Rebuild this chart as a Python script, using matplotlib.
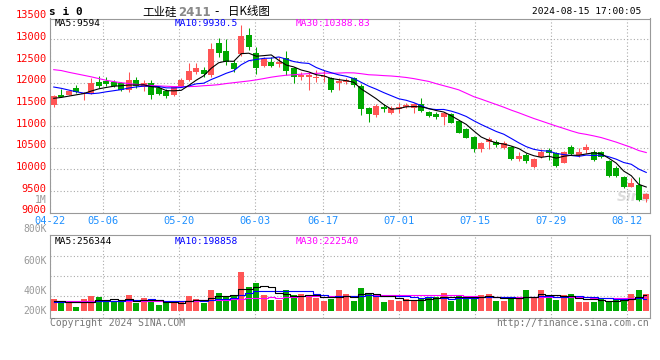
import matplotlib
matplotlib.use('Agg')
import matplotlib.pyplot as plt
import matplotlib.transforms as mtransforms
import numpy as np

plt.rcParams['font.family'] = ['DejaVu Sans Mono', 'Noto Sans CJK SC']

# tick dates and their trading-day index
dates = ['04-22', '05-06', '05-20', '06-03', '06-17', '07-01', '07-15', '07-29', '08-12']
date_idx = [0, 7, 17, 27, 36, 46, 56, 66, 76]

opens = [11486, 11724, 11724, 11886, 11739, 11770, 12024, 12039, 12009, 11986,
         11832, 12063, 11909, 11986, 11870, 11817, 11717, 11932, 12063, 12255,
         12293, 12178, 12909, 12732, 12463, 12663, 13101, 12678, 12393, 12486,
         12424, 12563, 12332, 12124, 12124, 12101, 12124, 12101, 12001, 12024,
         12101, 11932, 11409, 11255, 11447, 11309, 11393, 11447, 11409, 11509,
         11332, 11278, 11217, 11270, 11117, 10930, 10755, 10470, 10630, 10640,
         10486, 10524, 10240, 10332, 10063, 10293, 10447, 10386, 10155, 10509,
         10332, 10447, 10409, 10409, 10193, 10024, 9816, 9601, 9640, 9309]
highs = [11717, 11848, 11832, 11948, 11793, 12101, 12155, 12124, 12063, 12024,
         12255, 12140, 12063, 12063, 11909, 11848, 11924, 12101, 12463, 12463,
         12370, 12909, 13024, 13001, 12524, 13332, 13255, 12832, 12601, 12601,
         12601, 12732, 12370, 12255, 12255, 12293, 12293, 12140, 12101, 12117,
         12140, 11970, 11447, 11501, 11501, 11463, 11540, 11524, 11524, 11655,
         11355, 11332, 11332, 11293, 11140, 10947, 10770, 10640, 10755, 10678,
         10660, 10540, 10409, 10370, 10255, 10463, 10486, 10409, 10424, 10563,
         10486, 10586, 10447, 10424, 10216, 10078, 9847, 9793, 9816, 9447]
lows = [11432, 11663, 11709, 11755, 11601, 11740, 11871, 11924, 11909, 11809,
        11793, 11870, 11809, 11624, 11717, 11640, 11693, 11909, 12048, 12201,
        12140, 12140, 12601, 12409, 12255, 12624, 12755, 12201, 12370, 12370,
        12370, 12178, 11986, 12063, 11832, 12024, 12024, 11793, 11832, 11970,
        11909, 11255, 11101, 11217, 11332, 11278, 11309, 11409, 11309, 11317,
        11201, 11155, 11030, 11063, 10830, 10717, 10409, 10409, 10463, 10524,
        10465, 10217, 10193, 10155, 10024, 10255, 10216, 10063, 10140, 10332,
        10293, 10370, 10201, 10270, 9816, 9816, 9578, 9586, 9278, 9255]
closes = [11693, 11678, 11809, 11793, 11770, 11986, 11932, 11970, 11932, 11832,
          12063, 11932, 12001, 11717, 11740, 11693, 11909, 12063, 12278, 12347,
          12201, 12778, 12694, 12470, 12317, 13086, 12832, 12347, 12540, 12393,
          12470, 12278, 12140, 12178, 12178, 12140, 12155, 11832, 12047, 12063,
          11947, 11386, 11278, 11470, 11393, 11424, 11447, 11486, 11501, 11355,
          11232, 11217, 11309, 11078, 10850, 10735, 10470, 10600, 10701, 10555,
          10600, 10240, 10309, 10193, 10240, 10409, 10370, 10086, 10409, 10355,
          10409, 10524, 10216, 10293, 9847, 9847, 9601, 9693, 9293, 9432]

ma5 = [11640, 11660, 11690, 11720, 11749, 11807, 11858, 11890, 11918, 11930,
       11946, 11946, 11952, 11909, 11891, 11817, 11812, 11824, 11937, 12058,
       12160, 12333, 12460, 12498, 12492, 12669, 12680, 12610, 12624, 12640,
       12516, 12406, 12364, 12292, 12249, 12183, 12158, 12097, 12070, 12047,
       12009, 11855, 11744, 11629, 11495, 11390, 11402, 11444, 11450, 11443,
       11404, 11358, 11323, 11238, 11137, 11038, 10888, 10747, 10671, 10612,
       10585, 10539, 10481, 10379, 10316, 10278, 10304, 10260, 10303, 10326,
       10326, 10357, 10383, 10359, 10258, 10145, 9961, 9856, 9656, 9594]
ma10 = [11900, 11870, 11830, 11790, 11760, 11745, 11760, 11790, 11815, 11840,
        11877, 11902, 11921, 11914, 11911, 11881, 11879, 11888, 11923, 11974,
        11988, 12073, 12142, 12217, 12275, 12414, 12507, 12535, 12561, 12566,
        12593, 12543, 12487, 12458, 12444, 12350, 12282, 12230, 12181, 12148,
        12096, 12007, 11920, 11850, 11771, 11700, 11629, 11594, 11540, 11469,
        11397, 11380, 11383, 11344, 11290, 11221, 11123, 11035, 10955, 10875,
        10812, 10714, 10614, 10525, 10464, 10432, 10422, 10370, 10341, 10321,
        10302, 10330, 10321, 10331, 10292, 10236, 10159, 10119, 10008, 9930.5]
ma30 = [12300, 12280, 12240, 12205, 12170, 12135, 12095, 12055, 12025, 12000,
        11980, 11960, 11947, 11935, 11925, 11918, 11910, 11908, 11909, 11915,
        11930, 11940, 11955, 11980, 12000, 12020, 12040, 12065, 12095, 12127,
        12152, 12172, 12183, 12196, 12210, 12215, 12222, 12218, 12222, 12229,
        12226, 12207, 12183, 12175, 12163, 12154, 12139, 12120, 12094, 12061,
        12029, 11977, 11930, 11884, 11835, 11757, 11678, 11620, 11558, 11497,
        11435, 11367, 11306, 11240, 11175, 11117, 11058, 11000, 10945, 10888,
        10837, 10808, 10773, 10734, 10682, 10629, 10568, 10508, 10435, 10388.83]

# volume in thousands
vol = [194, 124, 135, 70, 194, 248, 227, 151, 151, 151,
       259, 135, 211, 151, 97, 135, 151, 151, 248, 194,
       135, 340, 292, 248, 243, 637, 394, 459, 259, 178,
       178, 340, 259, 281, 243, 205, 167, 200, 340, 275,
       162, 373, 292, 248, 146, 178, 167, 189, 178, 216,
       205, 227, 292, 162, 259, 232, 205, 259, 275, 162,
       162, 221, 232, 340, 216, 340, 205, 178, 259, 275,
       146, 146, 146, 189, 146, 178, 205, 275, 340, 275]
vma5 = [165, 160, 150, 145, 143, 154, 175, 178, 194, 186,
        188, 169, 181, 181, 171, 146, 149, 137, 156, 176,
        176, 214, 242, 242, 252, 352, 363, 396, 398, 385,
        294, 283, 243, 247, 260, 266, 231, 219, 231, 237,
        229, 270, 288, 270, 244, 247, 206, 186, 172, 186,
        191, 203, 224, 220, 229, 234, 230, 223, 246, 227,
        213, 216, 210, 223, 234, 270, 267, 256, 240, 251,
        213, 201, 194, 180, 155, 161, 173, 199, 229, 256]
vma10 = [150, 148, 145, 143, 145, 150, 155, 158, 160, 164,
         171, 172, 180, 188, 178, 167, 159, 159, 169, 173,
         161, 181, 189, 199, 214, 264, 288, 319, 320, 318,
         323, 323, 320, 323, 323, 280, 257, 231, 239, 249,
         247, 250, 254, 250, 241, 238, 238, 237, 221, 215,
         219, 205, 205, 196, 207, 213, 216, 223, 233, 228,
         223, 223, 217, 235, 230, 241, 241, 233, 231, 243,
         241, 234, 225, 210, 203, 187, 187, 196, 205, 199]
vma30 = [160, 160, 158, 157, 157, 158, 160, 160, 160, 160,
         162, 162, 163, 163, 162, 162, 163, 165, 168, 170,
         172, 178, 182, 186, 190, 200, 206, 212, 216, 219,
         218, 225, 229, 237, 238, 237, 235, 236, 243, 247,
         244, 251, 254, 257, 259, 260, 261, 262, 260, 261,
         263, 259, 259, 256, 257, 243, 237, 230, 231, 230,
         230, 226, 225, 227, 226, 231, 232, 231, 228, 228,
         228, 220, 215, 214, 214, 214, 215, 218, 223, 223]

UP = '#ff5555'
DOWN = '#00a800'
GRID = '#aaaaaa'
FRAME = '#999999'
W, H = 660.0, 360.0


def box(x0, y0, x1, y1):
    # pixel box (top-left origin) -> figure rect
    return [x0 / W, 1 - y1 / H, (x1 - x0) / W, (y1 - y0) / H]


fig = plt.figure(figsize=(6.6, 3.6), dpi=100)
ax = fig.add_axes(box(50, 18.5, 650, 213))
vax = fig.add_axes(box(50, 235, 650, 318))

x = np.arange(len(closes))
o = np.array(opens)
c = np.array(closes)
colors = np.where(c >= o, UP, DOWN)

# grid positions drift a little against the candles on sina's chart
grid_pos = np.array(date_idx) * 1.0113 - 0.47

# price panel
ax.vlines(x, lows, highs, colors=colors, lw=0.75, zorder=3)
ax.bar(x, np.maximum(np.abs(c - o), 20), bottom=np.minimum(o, c), width=0.76,
       color=colors, lw=0, zorder=3)
ax.plot(x, ma30, color='#ff00ff', lw=0.8, zorder=4)
ax.plot(x, ma10, color='#0000ff', lw=0.8, zorder=4)
ax.plot(x, ma5, color='black', lw=0.8, zorder=4)
ax.set_xlim(-0.5, 79.5)
ax.set_ylim(8995, 13480)
ax.set_yticks(range(9500, 13001, 500))
ax.set_xticks(grid_pos)
ax.set_xticklabels(dates, color='#1e90ff', fontsize=7.5)
ax.tick_params(axis='x', length=0, pad=2)
ax.tick_params(axis='y', length=0, labelleft=False)
ax.grid(True, ls=(0, (1, 2)), color=GRID, lw=0.8)
for s in ax.spines.values():
    s.set_color(FRAME)

lab_tr = mtransforms.offset_copy(
    mtransforms.blended_transform_factory(ax.transAxes, ax.transData),
    fig=fig, x=-3.5, y=2.3, units='dots')
for v in range(9000, 13501, 500):
    ax.text(0, v, str(v), transform=lab_tr, ha='right', va='center',
            color='red', fontsize=7.5, clip_on=False)

ax.text(0.973, 0.08, 'Sina', transform=ax.transAxes, ha='center', va='center',
        fontsize=10, style='italic', weight='bold', color='#dddddd',
        family='DejaVu Sans', zorder=1)

# volume panel
vax.bar(x, vol, width=0.76, color=colors, lw=0, zorder=3)
vax.plot(x, vma30, color='#ff00ff', lw=0.8, drawstyle='steps-mid', zorder=4)
vax.plot(x, vma10, color='#0000ff', lw=0.8, drawstyle='steps-mid', zorder=4)
vax.plot(x, vma5, color='black', lw=0.8, drawstyle='steps-mid', zorder=4)
vax.set_xlim(-0.5, 79.5)
vax.set_ylim(-113, 1231)
vax.set_xticks(grid_pos)
vax.set_yticks([])
vax.tick_params(axis='x', length=0, labelbottom=False)
vax.grid(True, axis='x', ls=(0, (1, 2)), color=GRID, lw=0.8)
for f in (0.265, 0.506, 0.747):
    vax.plot([0, 1], [f, f], transform=vax.transAxes, ls=(0, (1, 2)),
             color=GRID, lw=0.8, zorder=1)
for s in vax.spines.values():
    s.set_color(FRAME)

for txt, yp in [('1M', 200), ('800K', 229), ('600K', 261), ('400K', 291), ('200K', 311)]:
    fig.text(46.5 / W, 1 - yp / H, txt, ha='right', va='center',
             color='#999999', fontsize=7)

# header texts
fig.text(49 / W, 1 - 12 / H, 's i 0', fontsize=8, weight='bold', va='center')
fig.text(142 / W, 1 - 12 / H, '工业硅', family='Noto Sans CJK SC', fontsize=8.3, va='center')
fig.text(178 / W, 1 - 12 / H, '2411', family='DejaVu Sans', weight='bold',
         color='#888888', fontsize=8.5, va='center')
fig.text(214 / W, 1 - 12 / H, '-', family='DejaVu Sans', fontsize=8.5, va='center')
fig.text(228 / W, 1 - 12 / H, '日K线图', family='Noto Sans CJK SC', fontsize=8.3, va='center')
fig.text(641 / W, 1 - 12 / H, '2024-08-15 17:00:05', ha='right', va='center', fontsize=6.8)

fig.text(55 / W, 1 - 23.5 / H, 'MA5:9594', fontsize=6.8, va='center')
fig.text(175 / W, 1 - 23.5 / H, 'MA10:9930.5', fontsize=6.8, va='center', color='#0000ff')
fig.text(296 / W, 1 - 23.5 / H, 'MA30:10388.83', fontsize=6.8, va='center', color='#ff00ff')

fig.text(55 / W, 1 - 241 / H, 'MA5:256344', fontsize=6.8, va='center')
fig.text(175 / W, 1 - 241 / H, 'MA10:198858', fontsize=6.8, va='center', color='#0000ff')
fig.text(296 / W, 1 - 241 / H, 'MA30:222540', fontsize=6.8, va='center', color='#ff00ff')

fig.text(50 / W, 1 - 323 / H, 'Copyright 2024 SINA.COM', fontsize=7, color='#777777', va='center')
fig.text(649 / W, 1 - 323 / H, 'http://finance.sina.com.cn', fontsize=7, color='#777777',
         va='center', ha='right')

fig.savefig('out.png', dpi=100, facecolor='white')
